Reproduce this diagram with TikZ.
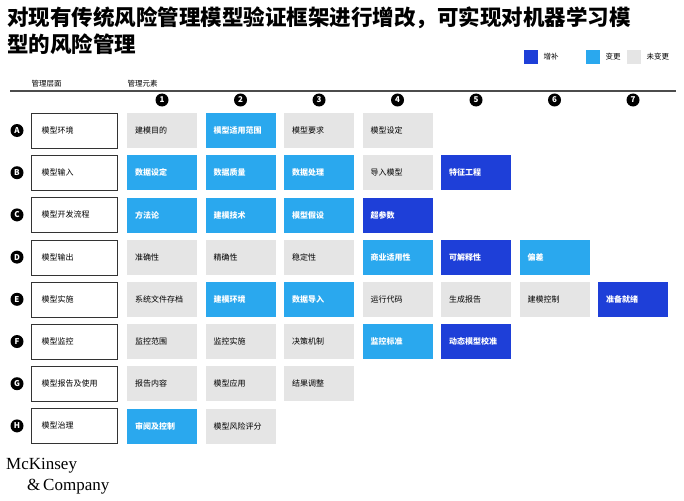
\documentclass[tikz,border=0pt]{standalone}
\usepackage{fontspec}
\setmainfont{Noto Sans CJK SC}
\newfontfamily\cjk{Noto Sans CJK SC}
\newfontfamily\serifm{Liberation Serif}
\definecolor{dk}{HTML}{1E3FD8}
\definecolor{lt}{HTML}{2AA8EE}
\definecolor{gr}{HTML}{E5E5E5}
\begin{document}
\begin{tikzpicture}[x=1pt,y=-1pt,
 cell/.style={minimum width=70pt,minimum height=35pt,anchor=north west,inner sep=0pt,font=\fontsize{8}{9}\selectfont},
 add/.style={cell,fill=dk,text=white,font=\fontsize{8}{9}\selectfont\bfseries},
 chg/.style={cell,fill=lt,text=white,font=\fontsize{8}{9}\selectfont\bfseries},
 same/.style={cell,fill=gr,text=black},
 lbl/.style={draw=black!80,line width=1pt,minimum width=86pt,minimum height=35pt,anchor=north west,inner sep=0pt},
 dot/.style={circle,fill=black,text=white,inner sep=0pt,minimum size=13pt,font=\fontsize{8}{9}\selectfont\bfseries}]
\useasboundingbox (0,0) rectangle (684,500);
\node[anchor=west,font=\fontsize{21.5}{22}\selectfont\bfseries,inner sep=0pt] (t1) at (7,18) {对现有传统风险管理模型验证框架进行增改，可实现对机器学习模};
\node[anchor=west,font=\fontsize{21.5}{22}\selectfont\bfseries,inner sep=0pt] (t2) at (7,44) {型的风险管理};
% legend
\foreach \c/\t/\x in {dk/增补/524,lt/变更/586,gr/未变更/627}{
 \fill[\c] (\x,50) rectangle ++(14,14);
 \node[anchor=west,font=\fontsize{7.5}{8}\selectfont] at (\x+16,57) {\t};}
\node[anchor=west,font=\fontsize{7.5}{8}\selectfont] (h1) at (28,84) {管理层面};
\node[anchor=west,font=\fontsize{7.5}{8}\selectfont] (h2) at (124,84) {管理元素};
\draw[black!70,line width=1.2pt] (10,91) -- (676,91);
\foreach \i in {1,...,7}{\node[dot] (n\i) at ({162+78.5*(\i-1)},100) {\i};}
% rows
\foreach \L/\T/\r in {A/模型环境/0,B/模型输入/1,C/模型开发流程/2,D/模型输出/3,E/模型实施/4,F/模型监控/5,G/模型报告及使用/6,H/模型治理/7}{
 \node[dot] (r\L) at (17,{130.5+42.2*\r}) {\L};
 \node[lbl] (b\L) at (31,{113+42.2*\r}) {};
 \node[anchor=west,font=\fontsize{8}{9}\selectfont] at (38,{130.5+42.2*\r}) {\T};
}
\newcommand\cellat[4]{\node[#1,text width=62pt,align=left] at ({127+78.5*(#2-1)},{113+42.2*#3}) {\hspace*{4pt}#4};}
\cellat{same}{1}{0}{建模目的}\cellat{chg}{2}{0}{模型适用范围}\cellat{same}{3}{0}{模型要求}\cellat{same}{4}{0}{模型设定}
\cellat{chg}{1}{1}{数据设定}\cellat{chg}{2}{1}{数据质量}\cellat{chg}{3}{1}{数据处理}\cellat{same}{4}{1}{导入模型}\cellat{add}{5}{1}{特征工程}
\cellat{chg}{1}{2}{方法论}\cellat{chg}{2}{2}{建模技术}\cellat{chg}{3}{2}{模型假设}\cellat{add}{4}{2}{超参数}
\cellat{same}{1}{3}{准确性}\cellat{same}{2}{3}{精确性}\cellat{same}{3}{3}{稳定性}\cellat{chg}{4}{3}{商业适用性}\cellat{add}{5}{3}{可解释性}\cellat{chg}{6}{3}{偏差}
\cellat{same}{1}{4}{系统文件存档}\cellat{chg}{2}{4}{建模环境}\cellat{chg}{3}{4}{数据导入}\cellat{same}{4}{4}{运行代码}\cellat{same}{5}{4}{生成报告}\cellat{same}{6}{4}{建模控制}\cellat{add}{7}{4}{准备就绪}
\cellat{same}{1}{5}{监控范围}\cellat{same}{2}{5}{监控实施}\cellat{same}{3}{5}{决策机制}\cellat{chg}{4}{5}{监控标准}\cellat{add}{5}{5}{动态模型校准}
\cellat{same}{1}{6}{报告内容}\cellat{same}{2}{6}{模型应用}\cellat{same}{3}{6}{结果调整}
\cellat{chg}{1}{7}{审阅及控制}\cellat{same}{2}{7}{模型风险评分}
\node[anchor=west,font=\serifm\fontsize{17}{17}\selectfont,inner sep=0pt] (m1) at (6,466) {McKinsey};
\node[anchor=west,font=\serifm\fontsize{17}{17}\selectfont,inner sep=0pt] (m2) at (27,487) {\&\,Company};
\end{tikzpicture}
\end{document}
